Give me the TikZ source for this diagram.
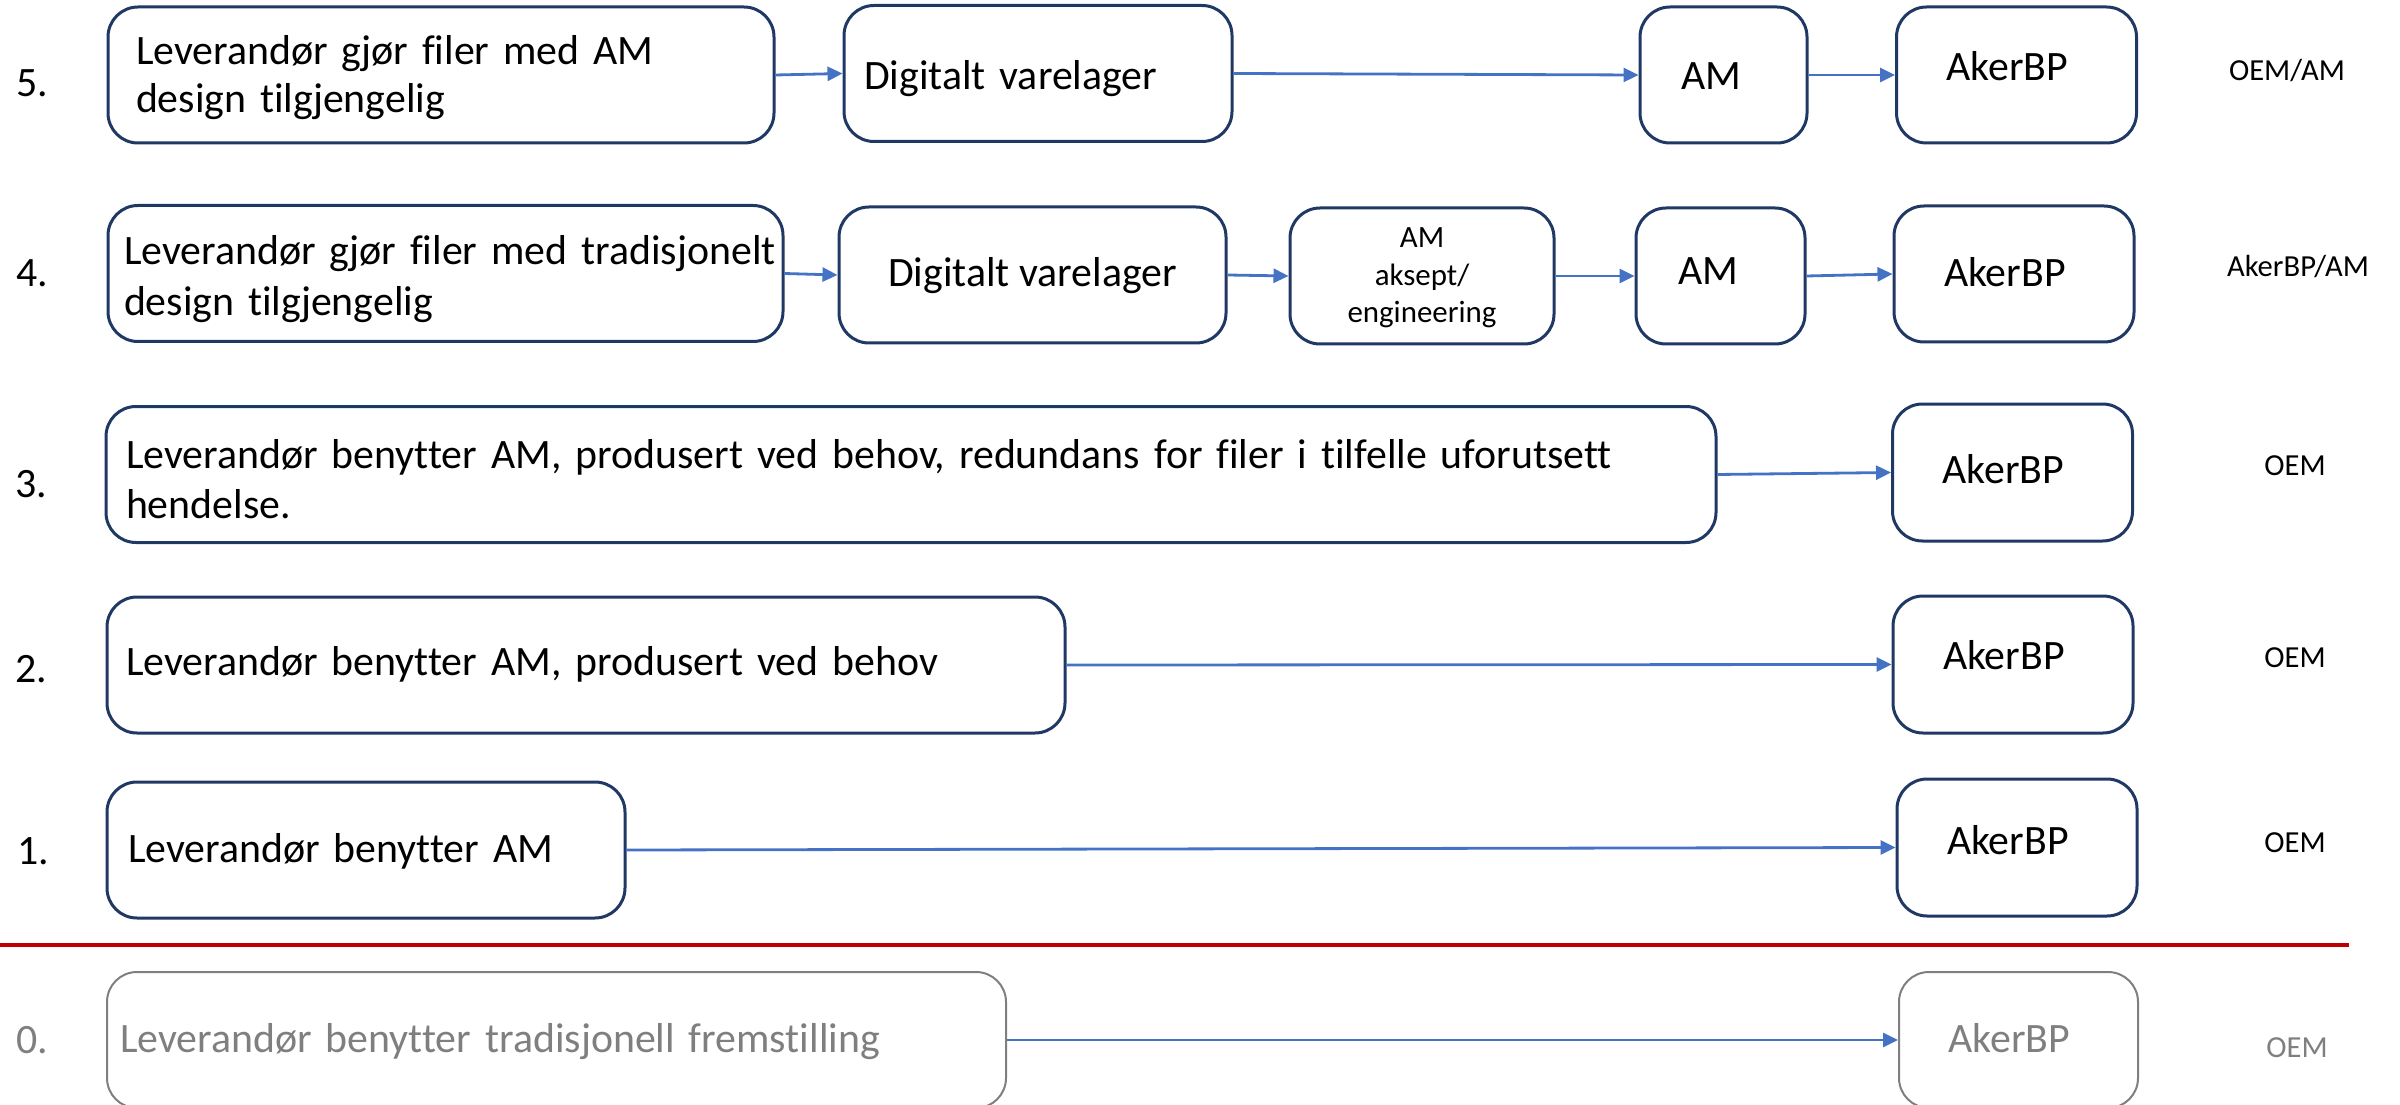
\documentclass[tikz,border=0pt]{standalone}
\usepackage{fontspec}
\setmainfont{Carlito}[Ligatures={NoCommon}]
\usetikzlibrary{arrows.meta}
\definecolor{navy}{HTML}{1F3864}
\definecolor{arrowblue}{HTML}{4472C4}
\definecolor{redline}{HTML}{C00000}
\definecolor{grayc}{HTML}{7F7F7F}
\newcommand\mysizeA{\fontsize{11.9}{14.5}\selectfont}
\newcommand\mysizeB{\fontsize{8.8}{10.6}\selectfont}
\begin{document}
\begin{tikzpicture}[x=0.1mm,y=-0.1mm,
  box/.style={draw=navy, line width=0.3mm, rounded corners=3mm, inner ysep=0pt,
    minimum height=13.6mm, font=\mysizeA, text=black, text depth=5mm},
  gbox/.style={box, draw=grayc, line width=0.2mm, text=grayc},
  kbox/.style={box, minimum width=24mm, text width=14mm, inner xsep=5mm, align=left},
  num/.style={font=\mysizeA, inner sep=0pt, anchor=base west},
  side/.style={font=\fontsize{8.7}{10.5}\selectfont, inner sep=0pt, anchor=base},
  conn/.style={draw=arrowblue, line width=0.28mm, -{Triangle[length=1.5mm,width=1.4mm]}}]
\clip (0,0) rectangle (2400,1105);
\useasboundingbox (0,0) rectangle (2400,1105);

% Row 5
\node[num] (n5) at (16,97) {5.};
\node[box, minimum width=66.6mm, text width=61mm, inner xsep=2.8mm, align=left, font=\fontsize{11.9}{13.4}\selectfont, text height=3mm] (s5) at (441,75) {\mbox{Leverandør gjør filer med AM}\\\mbox{design tilgjengelig}};
\node[box, minimum width=38.8mm, text width=34.8mm, inner xsep=2mm, align=left, text height=8.3mm] (d5) at (1038,73.5) {\mbox{Digitalt varelager}};
\node[box, minimum width=16.7mm, text width=8.5mm, inner xsep=4.1mm, align=left, text height=8mm] (a5) at (1723.5,75) {\mbox{AM}};
\node[kbox, text height=6.2mm] (k5) at (2016.5,75) {\mbox{AkerBP}};
\node[side] (r5) at (2287,81) {OEM/AM};
\draw[conn] (s5.east) -- (d5.west);
\draw[conn] (d5.east) -- (a5.west);
\draw[conn] (a5.east) -- (k5.west);

% Row 4
\node[num] (n4) at (16,287) {4.};
\node[box, minimum width=67.5mm, text width=64.3mm, inner xsep=1.6mm, align=left, text height=3.3mm] (s4) at (445.5,273.5) {\mbox{Leverandør gjør filer med tradisjonelt}\\\mbox{design tilgjengelig}};
\node[box, minimum width=38.7mm, align=center, text height=7.4mm] (d4) at (1032.5,275) {Digitalt varelager};
\node[box, minimum width=26.4mm, text width=22mm, inner xsep=2.2mm, align=center, font=\mysizeB, text depth=7mm, text height=1.4mm] (e4) at (1422,276) {AM\\aksept/\\engineering};
\node[box, minimum width=16.9mm, text width=8.5mm, inner xsep=4.2mm, align=left, text height=6.8mm] (a4) at (1720.5,276) {\mbox{AM}};
\node[kbox, text height=7.6mm] (k4) at (2014,274) {\mbox{AkerBP}};
\node[side] (r4) at (2298,277) {AkerBP/AM};
\draw[conn] (s4.east) -- (d4.west);
\draw[conn] (d4.east) -- (e4.west);
\draw[conn] (e4.east) -- (a4.west);
\draw[conn] (a4.east) -- (k4.west);

% Row 3
\node[num] (n3) at (15,497) {3.};
\node[box, minimum width=161mm, text width=157mm, inner xsep=2mm, align=left, text height=3.7mm] (s3) at (911,474.5) {\mbox{Leverandør benytter AM, produsert ved behov, redundans for filer i tilfelle uforutsett}\\\mbox{hendelse.}};
\node[kbox, minimum height=13.7mm, text height=7.1mm] (k3) at (2012.5,472.5) {\mbox{AkerBP}};
\node[side] (r3) at (2295,475) {OEM};
\draw[conn] (s3.east) -- (k3.west);

% Row 2
\node[num] (n2) at (15,682) {2.};
\node[box, minimum width=95.8mm, text width=92mm, inner xsep=1.9mm, align=left, text height=7mm] (s2) at (586,665) {\mbox{Leverandør benytter AM, produsert ved behov}};
\node[kbox, minimum height=13.7mm, text height=5.9mm] (k2) at (2013,664.5) {\mbox{AkerBP}};
\node[side] (r2) at (2295,667) {OEM};
\draw[conn] (s2.east) -- (k2.west);

% Row 1
\node[num] (n1) at (17,864) {1.};
\node[box, minimum width=51.8mm, text width=47.6mm, inner xsep=2.1mm, align=left, text height=7.4mm] (s1) at (366,850) {\mbox{Leverandør benytter AM}};
\node[kbox, minimum height=13.7mm, text height=6.3mm] (k1) at (2017,847.5) {\mbox{AkerBP}};
\node[side] (r1) at (2295,852) {OEM};
\draw[conn] (s1.east) -- (k1.west);

% separator
\coordinate (redL) at (0,945);
\coordinate (redR) at (2349,945);
\draw[redline, line width=0.35mm] (redL) -- (redR);

% Row 0
\node[num, text=grayc] (n0) at (16,1053) {0.};
\node[gbox, minimum width=89.9mm, text width=87.3mm, inner xsep=1.3mm, align=left, text height=7.4mm] (s0) at (556.5,1040) {\mbox{Leverandør benytter tradisjonell fremstilling}};
\node[gbox, minimum width=23.9mm, text width=14mm, inner xsep=4.6mm, align=left, text height=7.4mm] (k0) at (2018.5,1040) {\mbox{AkerBP}};
\node[side, text=grayc] (r0) at (2297,1057) {OEM};
\draw[conn] (s0.east) -- (k0.west);
\end{tikzpicture}
\end{document}
